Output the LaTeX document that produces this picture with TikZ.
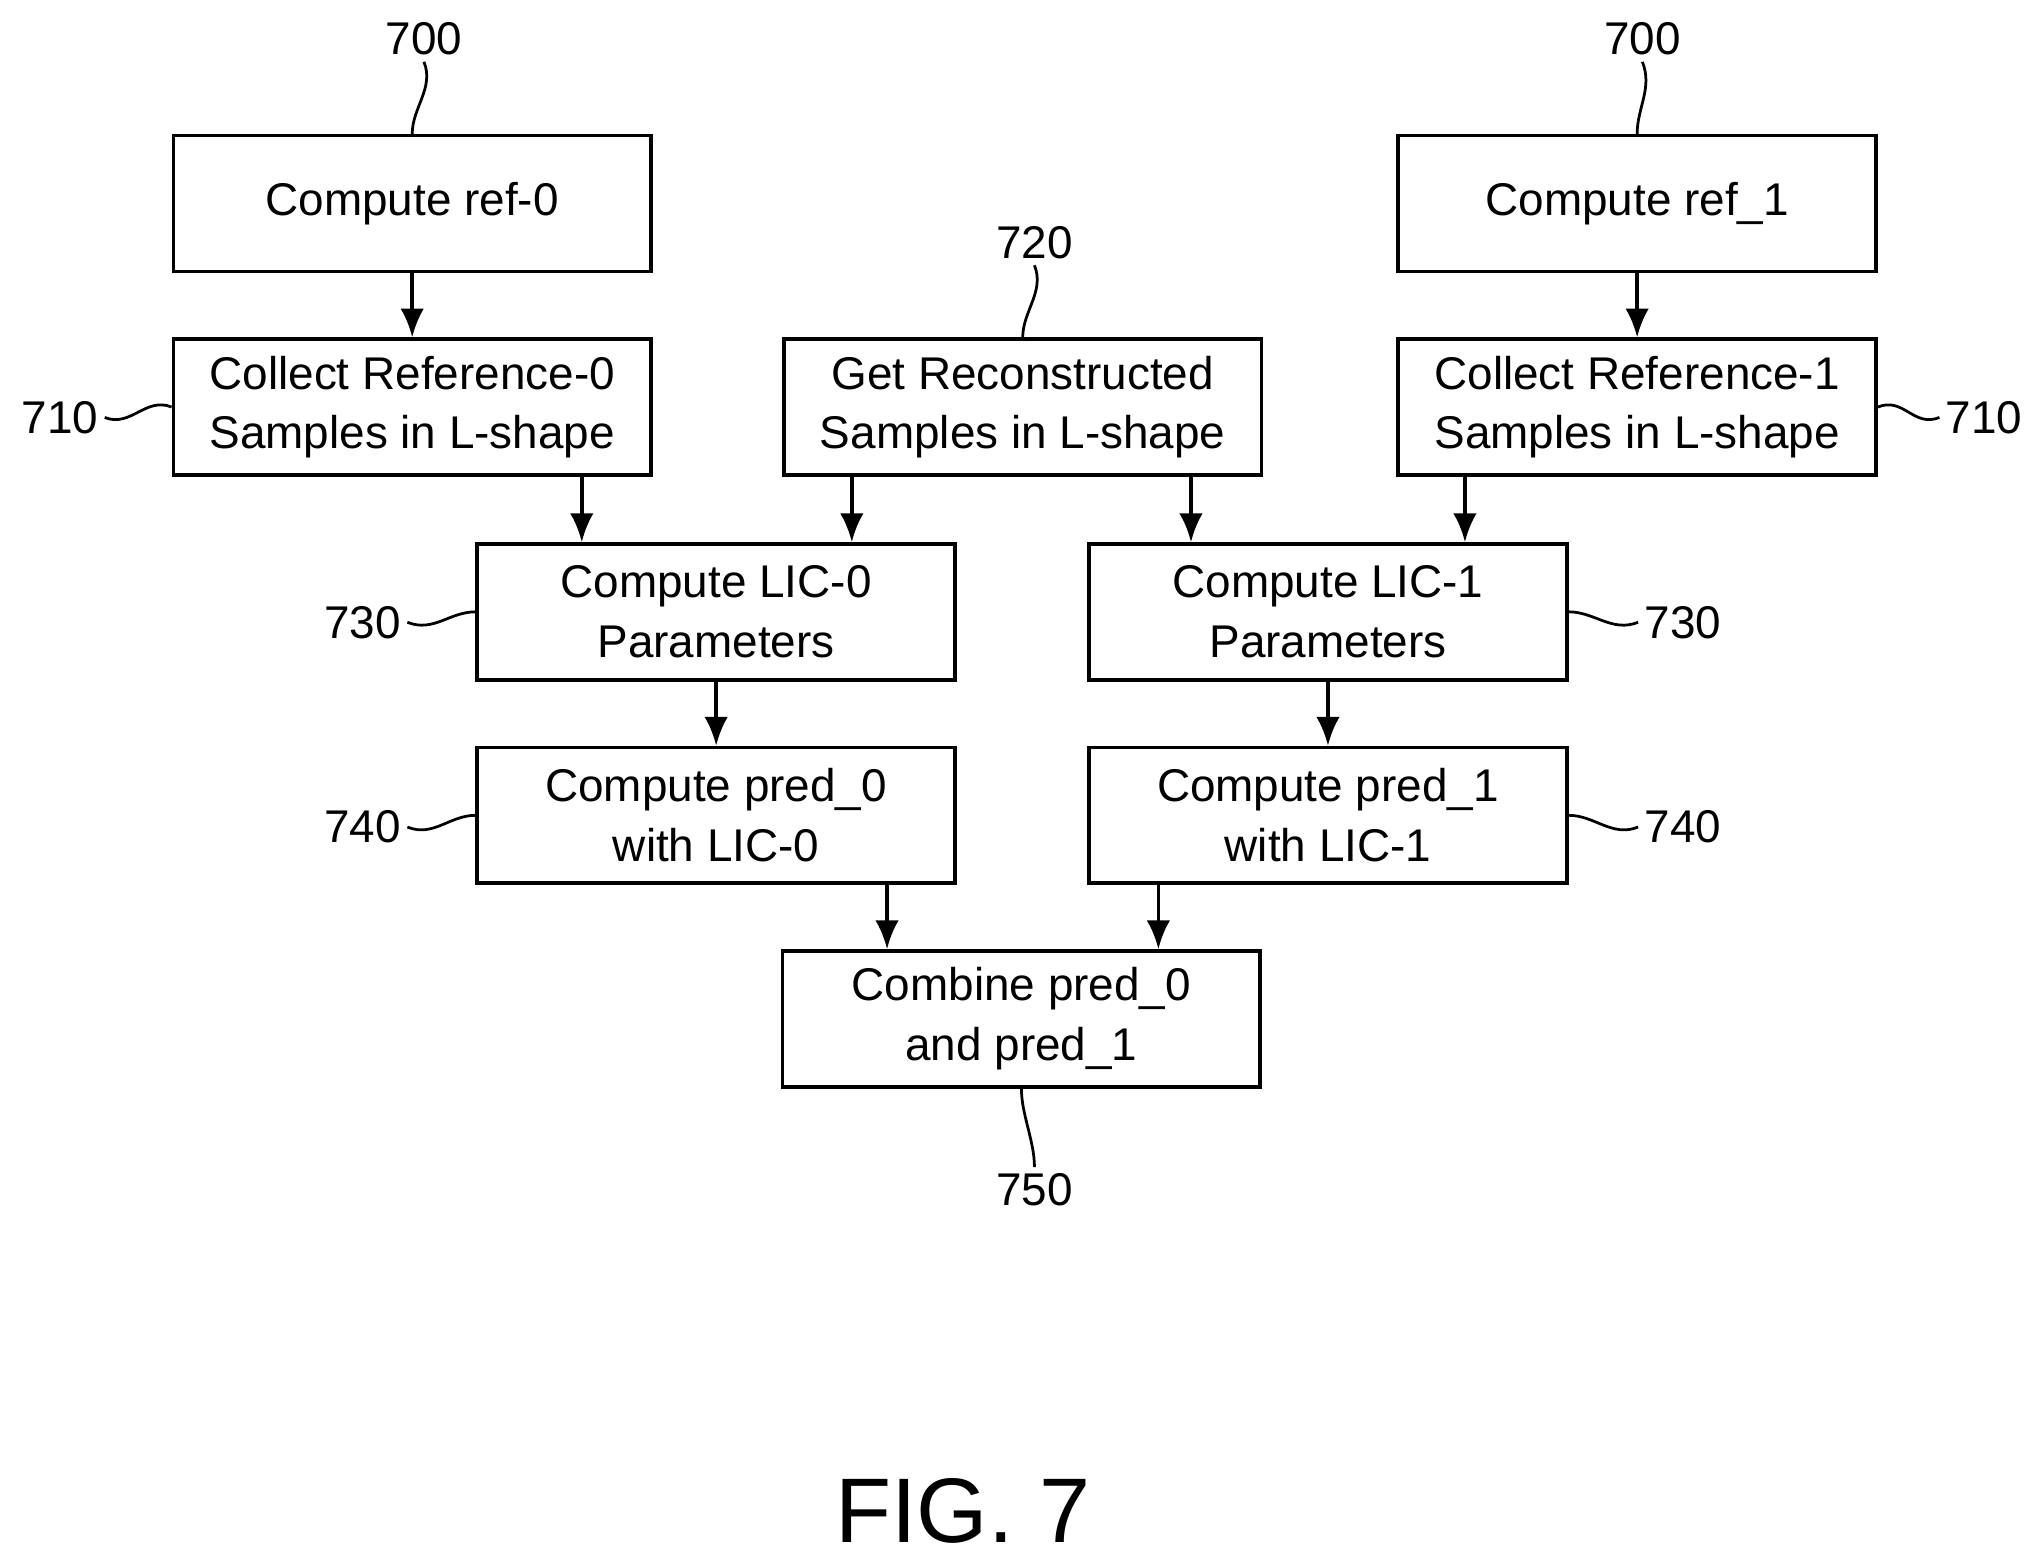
\documentclass[tikz,border=0pt]{standalone}
\usepackage{fontspec}
\setmainfont{Liberation Sans}
\usetikzlibrary{arrows.meta,calc,positioning}
\begin{document}
\begin{tikzpicture}[x=0.01cm,y=-0.01cm,thick,
          stepBox/.style={
            draw,
            rectangle,
            align=center,
            font=\fontsize{10}{13}\selectfont,
            minimum width=3.66cm,
            minimum height=1.04cm,
            inner sep=.05cm},
          refnum/.style={font=\fontsize{10}{12}\selectfont,inner sep=1pt},
          flow/.style={-{Latex[length=2.2mm,width=1.8mm]}},
          lead/.style={semithick} ]
          \useasboundingbox (0,0) rectangle (1560,1193);

          \node[stepBox] (ref0) at (316,156) {Compute ref-0};
          \node[stepBox] (ref1) at (1255,156) {Compute ref\_1};
          \node[stepBox] (collect0) at (316,312) {Collect Reference-0\\Samples in L-shape};
          \node[stepBox] (recon) at (784,312) {Get Reconstructed\\Samples in L-shape};
          \node[stepBox] (collect1) at (1255,312) {Collect Reference-1\\Samples in L-shape};
          \node[stepBox] (lic0) at (549,469) {Compute LIC-0\\Parameters};
          \node[stepBox] (lic1) at (1018,469) {Compute LIC-1\\Parameters};
          \node[stepBox] (pred0) at (549,625) {Compute pred\_0\\with LIC-0};
          \node[stepBox] (pred1) at (1018,625) {Compute pred\_1\\with LIC-1};
          \node[stepBox] (combine) at (783,781) {Combine pred\_0\\and pred\_1};
          \node[font=\fontsize{20}{24}\selectfont] (fig) at (738,1158) {FIG. 7};

          % reference numerals
          \node[refnum] (n700a) at (325,30) {700};
          \node[refnum] (n700b) at (1259,30) {700};
          \node[refnum] (n720) at (793,186) {720};
          \node[refnum] (n750) at (793,912) {750};
          \node[refnum] (n710a) at (46,320) {710};
          \node[refnum] (n710b) at (1521,320) {710};
          \node[refnum] (n730a) at (278,477) {730};
          \node[refnum] (n730b) at (1290,477) {730};
          \node[refnum] (n740a) at (278,634) {740};
          \node[refnum] (n740b) at (1290,634) {740};

          \draw[lead] (n700a.south) .. controls +(8,20) and +(0,-20) .. (ref0.north);
          \draw[lead] (n700b.south) .. controls +(8,20) and +(0,-20) .. (ref1.north);
          \draw[lead] (n720.south) .. controls +(8,20) and +(0,-20) .. (recon.north);
          \draw[lead] (n750.north) .. controls +(0,-20) and +(0,20) .. (combine.south);
          \draw[lead] (n710a.east) .. controls +(20,8) and +(-20,-8) .. (collect0.west);
          \draw[lead] (n710b.west) .. controls +(-20,8) and +(20,-8) .. (collect1.east);
          \draw[lead] (n730a.east) .. controls +(20,8) and +(-20,0) .. (lic0.west);
          \draw[lead] (n730b.west) .. controls +(-20,8) and +(20,0) .. (lic1.east);
          \draw[lead] (n740a.east) .. controls +(20,8) and +(-20,0) .. (pred0.west);
          \draw[lead] (n740b.west) .. controls +(-20,8) and +(20,0) .. (pred1.east);

          \draw[flow] (ref0) -- (collect0);
          \draw[flow] (ref1) -- (collect1);
          \draw[flow] (collect0.south -| 446,0) -- (lic0.north -| 446,0);
          \draw[flow] (recon.south -| 653,0) -- (lic0.north -| 653,0);
          \draw[flow] (recon.south -| 913,0) -- (lic1.north -| 913,0);
          \draw[flow] (collect1.south -| 1123,0) -- (lic1.north -| 1123,0);
          \draw[flow] (lic0) -- (pred0);
          \draw[flow] (lic1) -- (pred1);
          \draw[flow] (pred0.south -| 680,0) -- (combine.north -| 680,0);
          \draw[flow] (pred1.south -| 888,0) -- (combine.north -| 888,0);
        \end{tikzpicture}
\end{document}
